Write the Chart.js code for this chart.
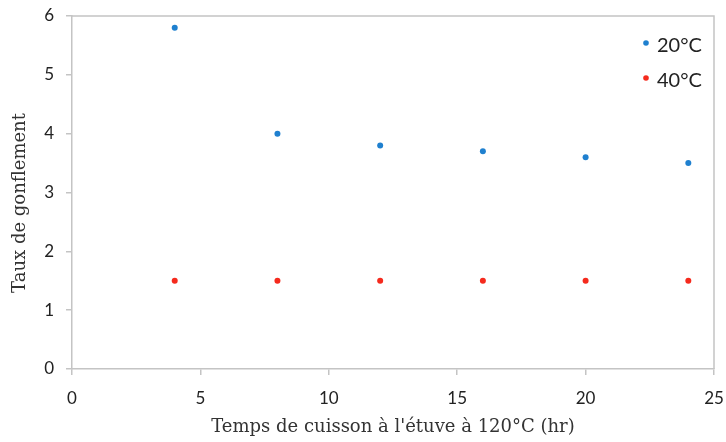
<!DOCTYPE html>
<html>
<head>
<meta charset="utf-8">
<script src="https://cdn.jsdelivr.net/npm/chart.js@4"></script>
<style>
html,body{margin:0;padding:0;background:#fff;}
#wrap{width:726px;height:442px;position:relative;}
</style>
</head>
<body>
<div id="wrap"><canvas id="c" width="726" height="442"></canvas></div>
<script>
const xValues = [4, 8, 12, 16, 20, 24];
const series20 = [5.8, 4.0, 3.8, 3.7, 3.6, 3.5];
const series40 = [1.5, 1.5, 1.5, 1.5, 1.5, 1.5];
const seriesLabels = ['20°C', '40°C'];
const seriesColors = ['#1f80cf', '#f52a1d'];
const xTitle = "Temps de cuisson à l'étuve à 120°C (hr)";
const yTitle = 'Taux de gonflement';

const toPoints = (xs, ys) => xs.map((x, i) => ({x: x, y: ys[i]}));
const serif = '"DejaVu Serif", "Liberation Serif", serif';

const frame = {
  id: 'frame',
  afterDatasetsDraw(chart) {
    const a = chart.chartArea, ctx = chart.ctx;
    ctx.save();
    ctx.strokeStyle = '#c4c4c4';
    ctx.lineWidth = 1.5;
    ctx.beginPath();
    ctx.moveTo(a.left, a.top);
    ctx.lineTo(a.right, a.top);
    ctx.lineTo(a.right, a.bottom);
    ctx.stroke();
    // y axis title
    ctx.save();
    ctx.translate(20, 203);
    ctx.rotate(-Math.PI / 2);
    ctx.font = '18px ' + serif;
    ctx.fillStyle = '#333';
    ctx.textAlign = 'center';
    ctx.textBaseline = 'middle';
    ctx.fillText(yTitle, 0, 0);
    ctx.restore();
    // legend
    ctx.font = '20px Lato, "Open Sans", sans-serif';
    ctx.textBaseline = 'middle';
    chart.data.datasets.forEach((ds, i) => {
      const y = 46 + i * 35;
      ctx.fillStyle = ds.backgroundColor;
      ctx.beginPath();
      ctx.arc(646, y - 3, 2.8, 0, Math.PI * 2);
      ctx.fill();
      ctx.fillStyle = '#222';
      ctx.textAlign = 'left';
      ctx.fillText(ds.label, 657, y);
    });
    ctx.restore();
  }
};

new Chart(document.getElementById('c'), {
  type: 'scatter',
  data: {
    datasets: [
      {label: seriesLabels[0], data: toPoints(xValues, series20), backgroundColor: seriesColors[0], borderColor: seriesColors[0], pointRadius: 3, pointBorderWidth: 0},
      {label: seriesLabels[1], data: toPoints(xValues, series40), backgroundColor: seriesColors[1], borderColor: seriesColors[1], pointRadius: 3, pointBorderWidth: 0}
    ]
  },
  options: {
    responsive: false,
    animation: false,
    layout: {padding: {left: 0, right: 12, top: 16, bottom: 0}},
    plugins: {legend: {display: false}, tooltip: {enabled: false}},
    scales: {
      x: {
        type: 'linear', min: 0, max: 25,
        afterFit(s) { s.height = 73; s.paddingLeft = 0; s.paddingRight = 0; },
        ticks: {stepSize: 5, color: '#222', font: {family: 'Lato, "Open Sans", sans-serif', size: 17}, padding: 13, maxRotation: 0},
        grid: {display: true, drawOnChartArea: false, drawTicks: true, tickLength: 6, color: '#c4c4c4', lineWidth: 1.5},
        border: {display: true, color: '#c4c4c4', width: 1.5},
        title: {display: true, text: xTitle, color: '#333', font: {family: serif, size: 18}, padding: {top: 15}}
      },
      y: {
        min: 0, max: 6,
        afterFit(s) { s.width = 72; s.paddingTop = 0; s.paddingBottom = 0; },
        ticks: {stepSize: 1, color: '#222', font: {family: 'Lato, "Open Sans", sans-serif', size: 17}, padding: 12},
        grid: {display: true, drawOnChartArea: false, drawTicks: true, tickLength: 6, color: '#c4c4c4', lineWidth: 1.5},
        border: {display: true, color: '#c4c4c4', width: 1.5},
        title: {display: false}
      }
    }
  },
  plugins: [frame]
});
</script>
</body>
</html>
